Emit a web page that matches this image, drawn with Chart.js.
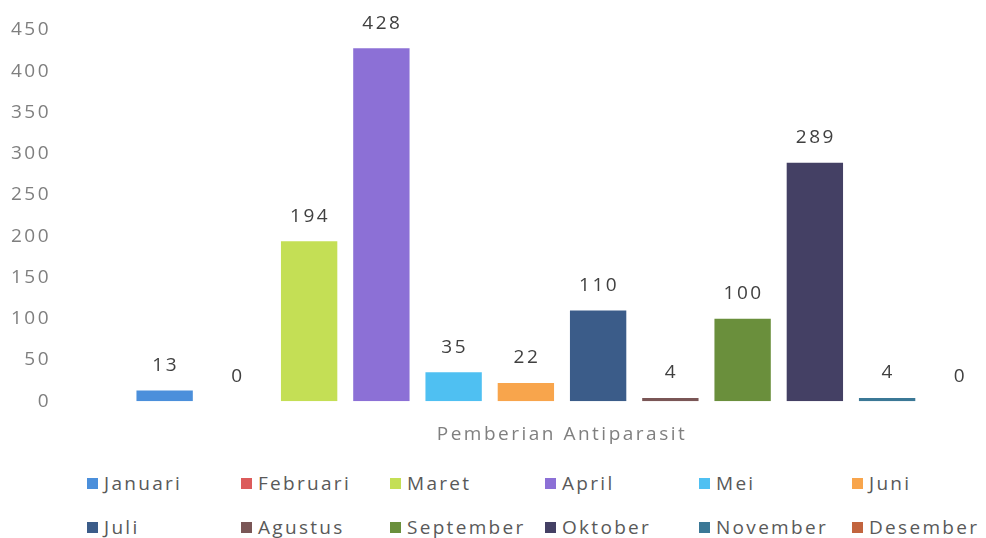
<!DOCTYPE html>
<html>
<head>
<meta charset="utf-8">
<script src="https://cdn.jsdelivr.net/npm/chart.js@4"></script>
<style>
  html, body { margin: 0; padding: 0; background: #fff; overflow: hidden; }
  body { width: 986px; height: 538px; position: relative; font-family: "Open Sans", sans-serif; }
  #wrap { position: absolute; left: 0; top: 0; width: 1069px; height: 460px; }
  #legend { position: absolute; left: 87px; top: 468px; display: grid;
            grid-template-columns: 154px 149px 155px 154px 153px 130px; grid-auto-rows: 44px; }
  .item { display: flex; align-items: center; height: 30px; color: #595959; font-size: 19px;
          letter-spacing: 2.3px; white-space: nowrap; }
  .box { width: 11px; height: 11px; margin-right: 6px; flex: none; }
</style>
</head>
<body>
<div id="wrap"><canvas id="chart"></canvas></div>
<div id="legend"></div>
<script>
const categories = ['Pemberian Antiparasit'];
const months = ['Januari', 'Februari', 'Maret', 'April', 'Mei', 'Juni',
                'Juli', 'Agustus', 'September', 'Oktober', 'November', 'Desember'];
const values = [13, 0, 194, 428, 35, 22, 110, 4, 100, 289, 4, 0];
const colors = ['#4b8fdb', '#dc5b5b', '#c4df55', '#8c70d6', '#4fc0f2', '#f8a54c',
                '#3b5c89', '#7a5656', '#6a8f3c', '#444064', '#3b7896', '#c2643e'];
const yTicks = [0, 50, 100, 150, 200, 250, 300, 350, 400, 450];

// de tekst in het origineel is breed uitgerekt, dus wat letterafstand
const spacing = {
  id: 'spacing',
  beforeUpdate(chart) { chart.ctx.letterSpacing = '2.5px'; },
  beforeDraw(chart) { chart.ctx.letterSpacing = '2.5px'; }
};

// etiketten boven de staven
const valueLabels = {
  id: 'valueLabels',
  afterDatasetsDraw(chart) {
    const ctx = chart.ctx;
    ctx.save();
    ctx.font = '19px "Open Sans"';
    ctx.letterSpacing = '2.5px';
    ctx.fillStyle = '#404040';
    ctx.textAlign = 'center';
    ctx.textBaseline = 'middle';
    chart.data.datasets.forEach((ds, i) => {
      const bar = chart.getDatasetMeta(i).data[0];
      ctx.fillText(ds.data[0], bar.x + 1, bar.y - 25);
    });
    ctx.restore();
  }
};

new Chart(document.getElementById('chart'), {
  type: 'bar',
  data: {
    labels: categories,
    datasets: months.map((m, i) => ({
      label: m,
      data: [values[i]],
      backgroundColor: colors[i],
      barPercentage: 0.78,
      categoryPercentage: 0.855
    }))
  },
  options: {
    responsive: true,
    maintainAspectRatio: false,
    animation: false,
    layout: { padding: { top: 30, left: 0, right: 0, bottom: 0 } },
    plugins: { legend: { display: false }, tooltip: { enabled: false } },
    scales: {
      x: {
        grid: { display: false },
        border: { display: false },
        ticks: { color: '#7f7f7f', font: { family: 'Open Sans', size: 19 }, padding: 14 }
      },
      y: {
        min: 0, max: 450,
        afterBuildTicks(axis) { axis.ticks = yTicks.map(v => ({ value: v })); },
        afterFit(axis) { axis.width = 55; },
        grid: { display: false, drawTicks: false },
        border: { display: false },
        ticks: { color: '#7f7f7f', font: { family: 'Open Sans', size: 19 }, padding: 4 }
      }
    }
  },
  plugins: [spacing, valueLabels]
});

const legend = document.getElementById('legend');
months.forEach((m, i) => {
  const el = document.createElement('div');
  el.className = 'item';
  el.innerHTML = '<span class="box" style="background:' + colors[i] + '"></span>' + m;
  legend.appendChild(el);
});
</script>
</body>
</html>
